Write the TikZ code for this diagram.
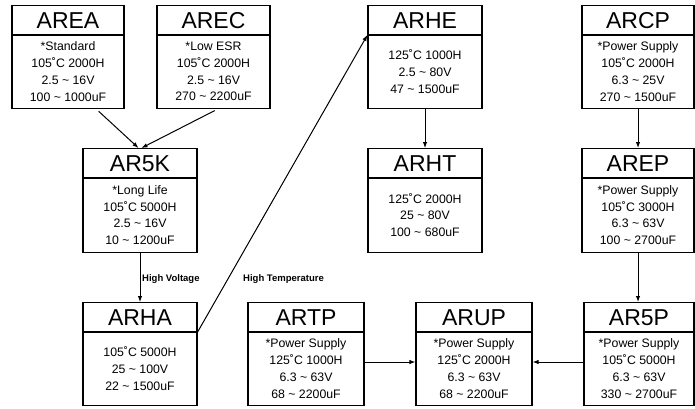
\documentclass[tikz,border=0pt]{standalone}
\usepackage{fontspec}
\setmainfont{Liberation Sans}
\usetikzlibrary{calc,arrows.meta}
\newcommand\tl{\textasciitilde}
\tikzset{
  boxframe/.style={draw=black, line width=1.2pt, rectangle, inner sep=0pt},
  titletext/.style={inner sep=0pt, font=\fontsize{23}{24}\selectfont},
  bodytext/.style={inner sep=0pt, align=center, font=\fontsize{12.3}{16.8}\selectfont},
  labeltext/.style={inner sep=0pt, anchor=west, font=\bfseries\fontsize{9.5}{11}\selectfont},
  conn/.style={draw=black, line width=1pt},
  arr/.style={conn, -{Latex[length=6pt,width=4.5pt]}},
}
% name, cx, top, width, height, title, body
\newcommand\prodbox[7]{%
  \node[boxframe, minimum width=#4pt, minimum height=#5pt, anchor=north] (#1) at (#2,#3) {};
  \node[titletext] (#1-t) at ($(#1.north)+(0,15.5)$) {#6};
  \coordinate (#1-dl) at ($(#1.north west)+(0,30)$);
  \coordinate (#1-dr) at ($(#1.north east)+(0,30)$);
  \draw[line width=1.2pt] (#1-dl) -- (#1-dr);
  \node[bodytext] (#1-b) at ($(#1.north)+(0,{30+(#5-30)/2})$) {#7};
}
\begin{document}
\begin{tikzpicture}[x=1pt,y=-1pt]
\useasboundingbox (0,0) rectangle (695,408);
\prodbox{area}{68}{5}{112}{103}{AREA}{*Standard\\105˚C 2000H\\2.5 \tl{} 16V\\100 \tl{} 1000uF}
\prodbox{arec}{213.5}{5}{113}{103}{AREC}{*Low ESR\\105˚C 2000H\\2.5 \tl{} 16V\\270 \tl{} 2200uF}
\prodbox{arhe}{425}{5}{114}{103}{ARHE}{125˚C 1000H\\2.5 \tl{} 80V\\47 \tl{} 1500uF}
\prodbox{arcp}{638}{5}{112}{103}{ARCP}{*Power Supply\\105˚C 2000H\\6.3 \tl{} 25V\\270 \tl{} 1500uF}
\prodbox{ar5k}{140}{148}{114}{104}{AR5K}{*Long Life\\105˚C 5000H\\2.5 \tl{} 16V\\10 \tl{} 1200uF}
\prodbox{arht}{425}{148}{114}{104}{ARHT}{125˚C 2000H\\25 \tl{} 80V\\100 \tl{} 680uF}
\prodbox{arep}{638}{148}{112}{104}{AREP}{*Power Supply\\105˚C 3000H\\6.3 \tl{} 63V\\100 \tl{} 2700uF}
\prodbox{arha}{140}{302}{114}{103}{ARHA}{105˚C 5000H\\25 \tl{} 100V\\22 \tl{} 1500uF}
\prodbox{artp}{306}{302}{116}{103}{ARTP}{*Power Supply\\125˚C 1000H\\6.3 \tl{} 63V\\68 \tl{} 2200uF}
\prodbox{arup}{474}{302}{116}{103}{ARUP}{*Power Supply\\125˚C 2000H\\6.3 \tl{} 63V\\68 \tl{} 2200uF}
\prodbox{ar5p}{639}{302}{110}{103}{AR5P}{*Power Supply\\105˚C 5000H\\6.3 \tl{} 63V\\330 \tl{} 2700uF}
% connectors
\coordinate (areaout) at ($(area.south west)+(85,0)$);
\coordinate (arecout) at ($(arec.south west)+(61,0)$);
\coordinate (ar5kin1) at ($(ar5k.north)+(-1.5,0)$);
\coordinate (ar5kin2) at ($(ar5k.north)+(1.5,0)$);
\draw[arr, shorten <=3pt] (areaout) -- (ar5kin1);
\draw[arr, shorten <=3pt] (arecout) -- (ar5kin2);
\draw[arr] (ar5k.south) -- (arha.north);
\draw[arr] (arha-dr) -- (arhe-dl);
\draw[arr] (arhe.south) -- (arht.north);
\draw[arr] (arcp.south) -- (arep.north);
\draw[arr] (arep.south) -- (arep.south |- ar5p.north);
\coordinate (tpout) at ($(artp.north east)+(0,60)$);
\coordinate (upin1) at ($(arup.north west)+(0,60)$);
\coordinate (upin2) at ($(arup.north east)+(0,60)$);
\coordinate (p5out) at ($(ar5p.north west)+(0,60)$);
\draw[arr] (tpout) -- (upin1);
\draw[arr] (p5out) -- (upin2);
\node[labeltext] (hv) at (142,279) {High Voltage};
\node[labeltext] (ht) at (243,279) {High Temperature};
\end{tikzpicture}
\end{document}
